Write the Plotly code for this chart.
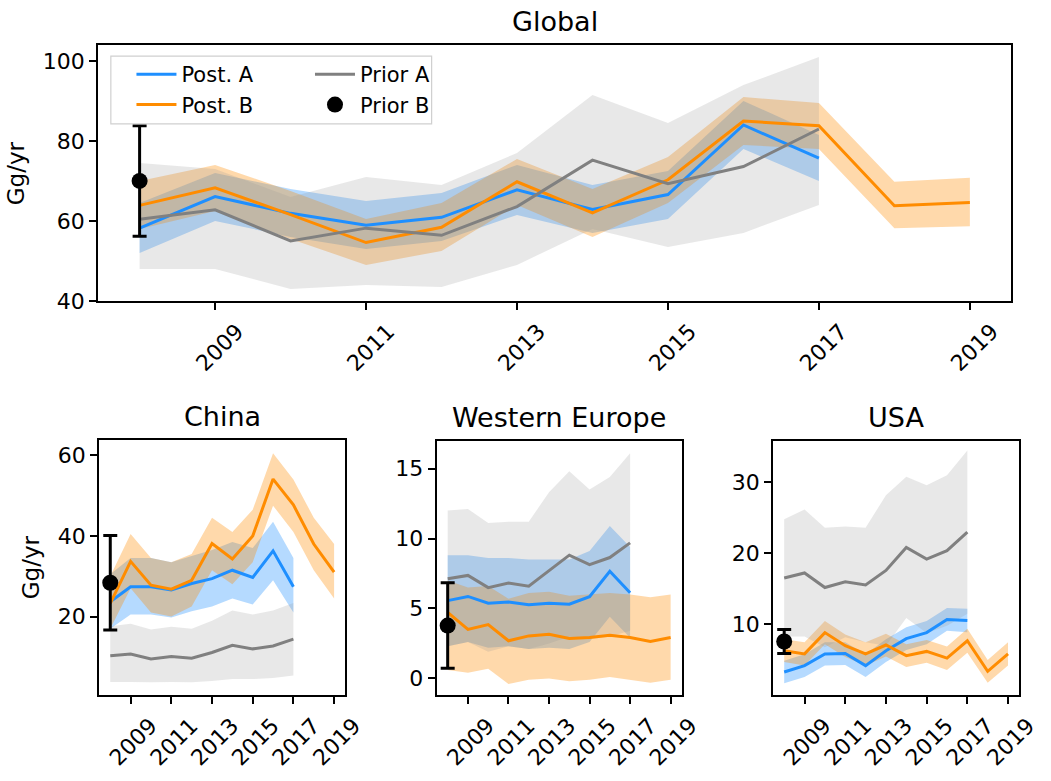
import plotly.graph_objects as go

# Years covered by each series
years_long = list(range(2008, 2020))   # Post. B runs to 2019
years_short = list(range(2008, 2018))  # Post. A and Prior A stop at 2017
prior_b_year = [2008]

# ---- Global (Gg/yr) ----
glob_post_a = [58.2, 66.1, 61.9, 58.9, 60.9, 67.8, 62.9, 66.6, 84.0, 75.7]
glob_post_a_lo = [52.0, 60.0, 56.0, 53.0, 55.0, 61.5, 57.0, 60.5, 78.0, 70.0]
glob_post_a_hi = [64.5, 72.0, 68.0, 65.0, 67.0, 74.0, 69.0, 72.5, 90.0, 81.5]
glob_post_b = [63.9, 68.3, 61.6, 54.6, 58.4, 69.8, 62.0, 70.3, 85.0, 83.8, 63.8, 64.6]
glob_post_b_lo = [58.0, 62.5, 55.5, 49.0, 52.5, 64.0, 56.0, 64.5, 79.0, 78.0, 58.2, 58.7]
glob_post_b_hi = [70.0, 74.0, 67.5, 60.5, 64.5, 75.5, 68.0, 76.0, 91.0, 89.5, 69.8, 70.8]
glob_prior_a = [60.4, 62.8, 55.0, 58.2, 56.4, 63.6, 75.2, 69.3, 73.6, 83.0]
glob_prior_a_lo = [48.0, 48.0, 43.0, 44.0, 43.5, 49.0, 58.0, 53.5, 57.0, 64.0]
glob_prior_a_hi = [74.5, 73.0, 66.0, 71.0, 69.0, 77.0, 91.5, 84.5, 94.0, 101.0]
glob_prior_b = [70.0]
glob_prior_b_err = [13.8]

# ---- China ----
china_post_a = [23.7, 27.4, 27.4, 26.6, 28.2, 29.4, 31.5, 29.7, 36.3, 27.4]
china_post_a_lo = [17.0, 20.5, 20.5, 19.8, 21.3, 22.5, 24.5, 23.0, 29.0, 21.0]
china_post_a_hi = [30.5, 34.5, 34.5, 33.5, 35.0, 36.5, 38.5, 37.0, 43.5, 34.5]
china_post_b = [23.3, 33.7, 27.8, 26.8, 29.0, 38.1, 34.3, 40.0, 54.1, 47.7, 38.0, 31.0]
china_post_b_lo = [17.0, 27.0, 21.0, 20.0, 22.5, 31.5, 28.0, 33.5, 47.5, 41.0, 31.5, 24.5]
china_post_b_hi = [30.0, 40.5, 34.5, 33.5, 35.5, 44.5, 41.0, 46.5, 60.5, 54.0, 44.5, 38.0]
china_prior_a = [10.3, 10.7, 9.5, 10.1, 9.7, 11.1, 12.9, 12.0, 12.7, 14.4]
china_prior_a_lo = [3.8, 3.8, 3.7, 3.8, 3.7, 4.0, 4.5, 4.5, 4.8, 5.4]
china_prior_a_hi = [17.6, 18.2, 16.8, 17.5, 17.0, 19.0, 21.5, 20.5, 21.5, 23.4]
china_prior_b = [28.4]
china_prior_b_err = [11.7]

# ---- Western Europe ----
weu_post_a = [5.56, 5.86, 5.37, 5.47, 5.26, 5.37, 5.30, 5.84, 7.66, 6.12]
weu_post_a_lo = [2.3, 2.6, 2.2, 2.3, 2.1, 2.2, 2.1, 2.6, 4.4, 2.9]
weu_post_a_hi = [8.8, 8.8, 8.6, 8.6, 8.5, 8.5, 8.5, 9.1, 10.9, 9.4]
weu_post_b = [4.72, 3.50, 3.85, 2.69, 3.04, 3.15, 2.85, 2.92, 3.08, 2.92, 2.64, 2.92]
weu_post_b_lo = [0.6, 0.4, 0.7, -0.4, -0.1, 0.0, -0.2, -0.1, 0.1, -0.1, -0.3, -0.1]
weu_post_b_hi = [7.0, 6.5, 6.6, 5.7, 6.1, 6.2, 5.9, 6.0, 6.1, 6.0, 5.8, 6.0]
weu_prior_a = [7.12, 7.36, 6.49, 6.82, 6.59, 7.71, 8.81, 8.13, 8.64, 9.69]
weu_prior_a_lo = [2.3, 2.6, 1.9, 2.3, 2.1, 2.5, 3.0, 2.8, 3.0, 3.4]
weu_prior_a_hi = [12.0, 12.1, 11.1, 11.2, 11.2, 13.3, 14.8, 13.5, 14.4, 16.1]
weu_prior_b = [3.78]
weu_prior_b_err = [3.05]

# ---- USA ----
usa_post_a = [3.3, 4.2, 5.85, 5.9, 4.2, 6.3, 8.0, 8.85, 10.7, 10.55]
usa_post_a_lo = [1.7, 2.6, 4.2, 4.3, 2.6, 4.7, 6.4, 7.2, 9.1, 8.9]
usa_post_a_hi = [4.9, 5.8, 7.5, 7.5, 5.8, 7.9, 9.6, 10.5, 12.3, 12.2]
usa_post_b = [6.3, 5.85, 8.85, 7.0, 5.85, 7.1, 5.6, 6.2, 5.25, 7.7, 3.4, 5.85]
usa_post_b_lo = [4.7, 4.2, 7.2, 5.4, 4.2, 5.5, 4.0, 4.6, 3.6, 6.0, 1.8, 4.2]
usa_post_b_hi = [7.9, 7.5, 10.5, 8.6, 7.5, 8.7, 7.2, 7.8, 6.9, 9.4, 5.0, 7.5]
usa_prior_a = [16.55, 17.25, 15.2, 16.0, 15.55, 17.6, 20.85, 19.2, 20.4, 23.0]
usa_prior_a_lo = [8.3, 8.3, 6.8, 8.2, 7.5, 7.0, 10.9, 8.8, 9.8, 11.5]
usa_prior_a_hi = [24.8, 26.2, 23.6, 23.8, 23.6, 28.2, 30.8, 29.6, 31.0, 34.5]
usa_prior_b = [7.6]
usa_prior_b_err = [1.7]

# Panel titles and tick labels
titles = ["Global", "China", "Western Europe", "USA"]
year_ticks = [2009, 2011, 2013, 2015, 2017, 2019]
year_ticktext = ["2009", "2011", "2013", "2015", "2017", "2019"]

BLUE = "#1e8fff"
ORANGE = "#ff8c00"
GREY = "#808080"
BLUE_BAND = "rgba(30,143,255,0.33)"
ORANGE_BAND = "rgba(255,140,0,0.33)"
GREY_BAND = "rgba(150,150,150,0.22)"
FONT = "DejaVu Sans"

fig = go.Figure()


def band(xs, lo, hi, color, xa, ya):
    fig.add_trace(go.Scatter(
        x=list(xs) + list(xs)[::-1], y=list(hi) + list(lo)[::-1],
        fill="toself", fillcolor=color, line=dict(width=0), mode="lines",
        hoverinfo="skip", showlegend=False, xaxis=xa, yaxis=ya))


def line(xs, ys, color, name, xa, ya, legend, legend_id):
    fig.add_trace(go.Scatter(
        x=xs, y=ys, mode="lines", line=dict(color=color, width=3),
        name=name, showlegend=legend, legend=legend_id,
        xaxis=xa, yaxis=ya))


panels = [
    ("x", "y", glob_post_a, glob_post_a_lo, glob_post_a_hi,
     glob_post_b, glob_post_b_lo, glob_post_b_hi,
     glob_prior_a, glob_prior_a_lo, glob_prior_a_hi, glob_prior_b, glob_prior_b_err),
    ("x2", "y2", china_post_a, china_post_a_lo, china_post_a_hi,
     china_post_b, china_post_b_lo, china_post_b_hi,
     china_prior_a, china_prior_a_lo, china_prior_a_hi, china_prior_b, china_prior_b_err),
    ("x3", "y3", weu_post_a, weu_post_a_lo, weu_post_a_hi,
     weu_post_b, weu_post_b_lo, weu_post_b_hi,
     weu_prior_a, weu_prior_a_lo, weu_prior_a_hi, weu_prior_b, weu_prior_b_err),
    ("x4", "y4", usa_post_a, usa_post_a_lo, usa_post_a_hi,
     usa_post_b, usa_post_b_lo, usa_post_b_hi,
     usa_prior_a, usa_prior_a_lo, usa_prior_a_hi, usa_prior_b, usa_prior_b_err),
]

for i, (xa, ya, pa, pa_lo, pa_hi, pb, pb_lo, pb_hi,
        pr, pr_lo, pr_hi, prb, prb_err) in enumerate(panels):
    first = i == 0
    band(years_short, pa_lo, pa_hi, BLUE_BAND, xa, ya)
    band(years_long, pb_lo, pb_hi, ORANGE_BAND, xa, ya)
    band(years_short, pr_lo, pr_hi, GREY_BAND, xa, ya)
    line(years_short, pa, BLUE, "Post. A", xa, ya, first, "legend")
    line(years_long, pb, ORANGE, "Post. B", xa, ya, first, "legend")
    line(years_short, pr, GREY, "Prior A", xa, ya, first, "legend2")
    fig.add_trace(go.Scatter(
        x=prior_b_year, y=prb, mode="markers", name="Prior B",
        marker=dict(color="black", size=16),
        error_y=dict(type="data", array=prb_err, color="black",
                     thickness=3, width=7),
        showlegend=first, legend="legend2", xaxis=xa, yaxis=ya))

W, H = 1051, 781
# panel boxes in pixels: left, right, top, bottom
boxes = [(100, 1031, 46, 306), (101, 352, 447, 707),
         (445, 695, 448, 707), (788, 1039, 448, 707)]
yranges = [[40, 103.95], [0.5, 63.9], [-1.2, 17.0], [0.03, 35.9]]
ytickvals = [[40, 60, 80, 100], [20, 40, 60], [0, 5, 10, 15], [10, 20, 30]]
shifts = [22, 20, 20, 20]

axis_common = dict(showline=True, linecolor="black", linewidth=1.8, mirror=True,
                   ticks="outside", ticklen=7, tickwidth=1.8, tickcolor="black",
                   showgrid=False, zeroline=False,
                   tickfont=dict(family=FONT, size=22, color="black"))

layout = dict(width=W, height=H, margin=dict(l=0, r=0, t=0, b=0),
              paper_bgcolor="white", plot_bgcolor="white",
              font=dict(family=FONT, color="black"))
annotations = []
for i, (l, r, t, b) in enumerate(boxes):
    sfx = "" if i == 0 else str(i + 1)
    layout["xaxis" + sfx] = dict(
        axis_common, domain=[l / W, r / W], range=[2007.45, 2019.55],
        tickvals=year_ticks, ticktext=year_ticktext, tickangle=-45,
        ticklabelshift=shifts[i], anchor="y" + sfx)
    layout["yaxis" + sfx] = dict(
        axis_common, domain=[1 - b / H, 1 - t / H], range=yranges[i],
        tickvals=ytickvals[i], anchor="x" + sfx)
    annotations.append(dict(
        text=titles[i], xref="x%s domain" % sfx, yref="y%s domain" % sfx,
        x=0.5, y=1, xanchor="center", yanchor="bottom", yshift=6,
        showarrow=False, font=dict(family=FONT, size=27, color="black")))

for yc, xc in [((46 + 306) / 2, 16.5), ((447 + 707) / 2, 31.5)]:
    annotations.append(dict(
        text="Gg/yr", xref="paper", yref="paper", x=xc / W, y=1 - yc / H,
        xanchor="center", yanchor="middle", textangle=-90, showarrow=False,
        font=dict(family=FONT, size=23, color="black")))

layout["annotations"] = annotations

# Legend frame shared by the two legend columns
layout["shapes"] = [dict(
    type="rect", xref="paper", yref="paper", layer="above",
    x0=113 / W, x1=440 / W, y0=1 - 126 / H, y1=1 - 57 / H,
    line=dict(color="#d0d0d0", width=1.2), fillcolor="rgba(255,255,255,0.8)")]

legend_common = dict(
    orientation="v", xanchor="left", yanchor="top", tracegroupgap=0,
    bgcolor="rgba(0,0,0,0)", borderwidth=0, itemwidth=40,
    font=dict(family=FONT, size=21, color="black"))
layout["legend"] = dict(legend_common, x=134 / W, y=1 - 55 / H)
layout["legend2"] = dict(legend_common, x=316 / W, y=1 - 55 / H)
fig.update_layout(**layout)

fig.write_html("out.html")
